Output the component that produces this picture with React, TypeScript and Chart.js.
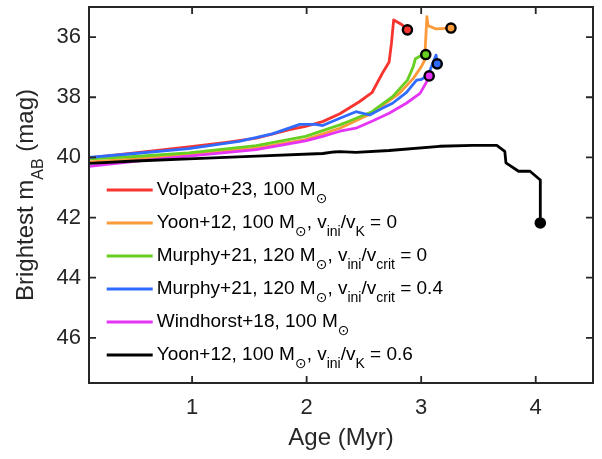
import React, { useEffect, useRef } from "react";
import { Chart, registerables } from "chart.js";

Chart.register(...registerables);

const FONT = "'Liberation Sans', Arial, Helvetica, 'DejaVu Sans', sans-serif";
const TEXT = "#262626";

const xTicks = [1, 2, 3, 4];
const yTicks = [36, 38, 40, 42, 44, 46];
const xTitle = "Age (Myr)";
const yTitle = "Brightest m_{AB} (mag)";

const seriesLabels = [
  "Volpato+23, 100 M_{⊙}",
  "Yoon+12, 100 M_{⊙}, v_{ini}/v_{K} = 0",
  "Murphy+21, 120 M_{⊙}, v_{ini}/v_{crit} = 0",
  "Murphy+21, 120 M_{⊙}, v_{ini}/v_{crit} = 0.4",
  "Windhorst+18, 100 M_{⊙}",
  "Yoon+12, 100 M_{⊙}, v_{ini}/v_{K} = 0.6",
];
const seriesColors = ["#f7342e", "#fd9a3a", "#66cf1f", "#2f6bff", "#e534f5", "#000000"];

const volpatoAge = [0.1, 0.5, 0.97, 1.3, 1.56, 1.85, 1.99, 2.14, 2.29, 2.46, 2.57, 2.66, 2.72, 2.74, 2.76, 2.83, 2.88];
const volpatoMag = [40.02, 39.85, 39.65, 39.5, 39.36, 39.08, 38.97, 38.81, 38.55, 38.15, 37.85, 37.21, 36.83, 36.22, 35.43, 35.58, 35.76];

const yoon0Age = [0.1, 0.5, 0.97, 1.56, 1.99, 2.29, 2.57, 2.81, 2.93, 3.0, 3.03, 3.05, 3.06, 3.13, 3.26];
const yoon0Mag = [40.15, 40.05, 39.9, 39.69, 39.41, 39.03, 38.53, 37.87, 37.38, 36.99, 36.77, 35.32, 35.62, 35.73, 35.7];

const murphy0Age = [0.1, 0.5, 0.97, 1.56, 1.99, 2.29, 2.37, 2.57, 2.75, 2.88, 2.93, 2.95, 3.0, 3.04];
const murphy0Mag = [40.05, 39.97, 39.85, 39.61, 39.3, 38.92, 38.8, 38.48, 37.98, 37.43, 36.99, 36.72, 36.61, 36.58];

const murphy04Age = [0.1, 0.5, 0.97, 1.41, 1.7, 1.82, 1.94, 2.08, 2.14, 2.29, 2.43, 2.55, 2.66, 2.75, 2.87, 2.96, 3.0, 3.06, 3.13, 3.14];
const murphy04Mag = [40.0, 39.87, 39.71, 39.47, 39.22, 39.06, 38.9, 38.9, 38.94, 38.7, 38.48, 38.59, 38.37, 38.2, 37.85, 37.43, 37.41, 37.27, 36.6, 36.89];

const windhorstAge = [0.1, 0.5, 0.97, 1.56, 1.99, 2.14, 2.29, 2.43, 2.57, 2.72, 2.87, 2.99, 3.04, 3.07];
const windhorstMag = [40.3, 40.13, 39.96, 39.74, 39.45, 39.3, 39.13, 39.03, 38.8, 38.53, 38.2, 37.87, 37.54, 37.29];

const yoon06Age = [0.1, 0.5, 0.97, 1.56, 2.14, 2.24, 2.29, 2.43, 2.72, 3.16, 3.45, 3.66, 3.73, 3.74, 3.85, 3.95, 4.04, 4.04];
const yoon06Mag = [40.2, 40.12, 40.05, 39.96, 39.87, 39.82, 39.81, 39.83, 39.77, 39.63, 39.6, 39.6, 39.8, 40.18, 40.46, 40.46, 40.75, 42.18];

const seriesAges = [volpatoAge, yoon0Age, murphy0Age, murphy04Age, windhorstAge, yoon06Age];
const seriesMags = [volpatoMag, yoon0Mag, murphy0Mag, murphy04Mag, windhorstMag, yoon06Mag];

type Seg = { t: string; sub: boolean };

function parseRich(s: string): Seg[] {
  const out: Seg[] = [];
  const re = /_\{([^}]*)\}/g;
  let last = 0;
  let m: RegExpExecArray | null;
  while ((m = re.exec(s))) {
    if (m.index > last) out.push({ t: s.slice(last, m.index), sub: false });
    out.push({ t: m[1], sub: true });
    last = re.lastIndex;
  }
  if (last < s.length) out.push({ t: s.slice(last), sub: false });
  return out;
}

function richWidth(ctx: CanvasRenderingContext2D, segs: Seg[], main: number, sub: number) {
  let w = 0;
  for (const s of segs) {
    ctx.font = `${s.sub ? sub : main}px ${FONT}`;
    w += ctx.measureText(s.t).width;
  }
  return w;
}

function drawRich(
  ctx: CanvasRenderingContext2D,
  segs: Seg[],
  x: number,
  y: number,
  main: number,
  sub: number,
  shift: number
) {
  let cx = x;
  ctx.textBaseline = "alphabetic";
  ctx.textAlign = "left";
  for (const s of segs) {
    ctx.font = `${s.sub ? sub : main}px ${FONT}`;
    ctx.fillText(s.t, cx, s.sub ? y + shift : y);
    cx += ctx.measureText(s.t).width;
  }
}

const decorPlugin = {
  id: "decor",
  afterDraw(chart: any) {
    const { ctx, chartArea } = chart;
    const { left, top, right, bottom } = chartArea;
    const xs = chart.scales.x;
    const ys = chart.scales.y;
    ctx.save();

    // Legend
    const lineX0 = left + 17.7;
    const lineX1 = left + 63.7;
    const textX = left + 67.7;
    const base0 = top + 187.5;
    const step = 33;
    seriesLabels.forEach((lab, i) => {
      const by = base0 + i * step;
      ctx.strokeStyle = seriesColors[i];
      ctx.lineWidth = 2.8;
      ctx.beginPath();
      ctx.moveTo(lineX0, by - 4.5);
      ctx.lineTo(lineX1, by - 4.5);
      ctx.stroke();
      ctx.fillStyle = "#000";
      drawRich(ctx, parseRich(lab), textX, by, 19, 14, 8);
    });

    // Box
    ctx.strokeStyle = TEXT;
    ctx.lineWidth = 2;
    ctx.strokeRect(left, top, right - left, bottom - top);
    ctx.lineWidth = 1.8;
    ctx.beginPath();
    for (const v of xTicks) {
      const px = xs.getPixelForValue(v);
      ctx.moveTo(px, bottom);
      ctx.lineTo(px, bottom - 7);
      ctx.moveTo(px, top);
      ctx.lineTo(px, top + 7);
    }
    for (const v of yTicks) {
      const py = ys.getPixelForValue(v);
      ctx.moveTo(left, py);
      ctx.lineTo(left + 7, py);
      ctx.moveTo(right, py);
      ctx.lineTo(right - 7, py);
    }
    ctx.stroke();

    // Axis titles
    ctx.fillStyle = TEXT;
    const xt = parseRich(xTitle);
    const xw = richWidth(ctx, xt, 24, 16);
    drawRich(ctx, xt, (left + right) / 2 - xw / 2, 445, 24, 16, 10);

    const yt = parseRich(yTitle);
    const yw = richWidth(ctx, yt, 24, 16);
    ctx.translate(33.3, (top + bottom) / 2);
    ctx.rotate(-Math.PI / 2);
    drawRich(ctx, yt, -yw / 2, 0, 24, 16, 10);

    ctx.restore();
  },
};

export default function App() {
  const ref = useRef<HTMLCanvasElement | null>(null);

  useEffect(() => {
    if (!ref.current) return;
    const n = seriesLabels.length;
    const datasets = seriesLabels.map((lab, i) => {
      const ages = seriesAges[i];
      const mags = seriesMags[i];
      const last = ages.length - 1;
      return {
        label: lab,
        data: ages.map((a, j) => ({ x: a, y: mags[j] })),
        borderColor: seriesColors[i],
        backgroundColor: seriesColors[i],
        borderWidth: 2.8,
        borderJoinStyle: "round" as const,
        tension: 0,
        fill: false,
        order: n - i,
        pointRadius: (c: any) => (c.dataIndex === last ? 4.6 : 0),
        pointBorderWidth: 2.4,
        pointBorderColor: "#000",
        pointBackgroundColor: seriesColors[i],
        pointHoverRadius: 0,
      };
    });

    const chart = new Chart(ref.current, {
      type: "line",
      data: { datasets },
      options: {
        animation: false,
        responsive: false,
        events: [],
        layout: { padding: { top: 3, right: 9, left: 0, bottom: 0 } },
        plugins: { legend: { display: false }, tooltip: { enabled: false } },
        scales: {
          x: {
            type: "linear",
            min: 0.1,
            max: 4.5,
            grid: { display: false, drawTicks: false },
            border: { display: false },
            ticks: {
              font: { size: 22, family: FONT },
              color: TEXT,
              padding: 12,
              maxRotation: 0,
              autoSkip: false,
            },
            afterBuildTicks: (s: any) => {
              s.ticks = xTicks.map((v) => ({ value: v }));
            },
            afterFit: (s: any) => {
              s.height = 76;
              s.paddingLeft = 0;
              s.paddingRight = 0;
            },
          },
          y: {
            type: "linear",
            min: 35,
            max: 47.5,
            reverse: true,
            grid: { display: false, drawTicks: false },
            border: { display: false },
            ticks: {
              font: { size: 22, family: FONT },
              color: TEXT,
              padding: 8,
              autoSkip: false,
            },
            afterBuildTicks: (s: any) => {
              s.ticks = yTicks.map((v) => ({ value: v }));
            },
            afterFit: (s: any) => {
              s.width = 89;
              s.paddingTop = 0;
              s.paddingBottom = 0;
            },
          },
        },
      },
      plugins: [decorPlugin],
    });
    return () => chart.destroy();
  }, []);

  return (
    <div style={{ position: "absolute", left: 0, top: 0, width: 602, height: 459, background: "#fff" }}>
      <canvas ref={ref} width={602} height={459} style={{ display: "block" }} />
    </div>
  );
}
